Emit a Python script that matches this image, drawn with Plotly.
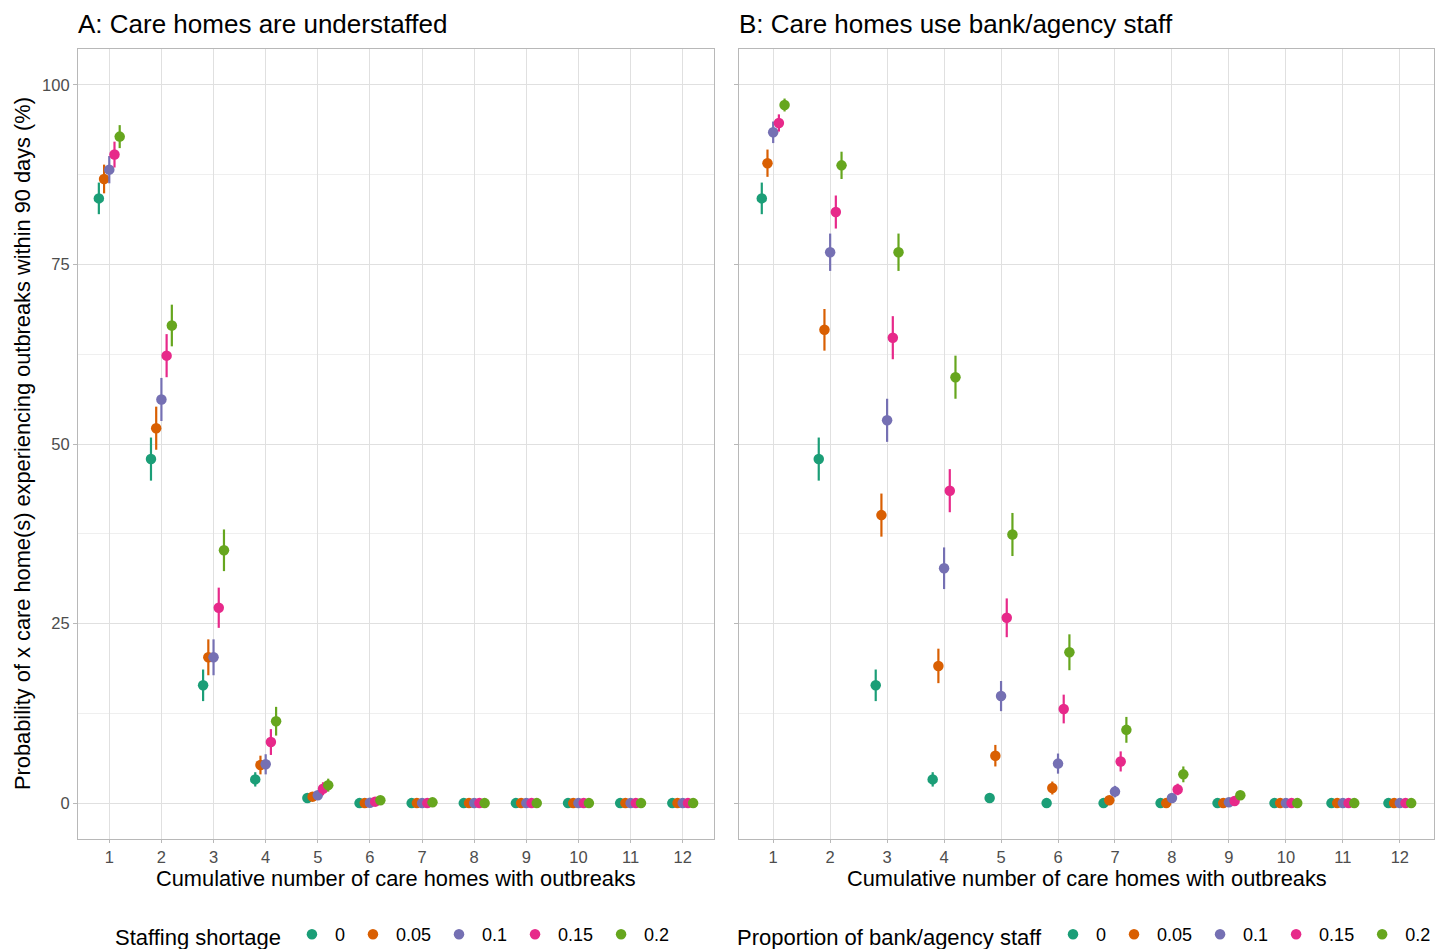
import plotly.graph_objects as go

# Cumulative number of care homes with outbreaks
homes = list(range(1, 13))

# Legend levels and Dark2 colours
staffing_levels = ["0", "0.05", "0.1", "0.15", "0.2"]
bank_levels = ["0", "0.05", "0.1", "0.15", "0.2"]
colours = ["#1B9E77", "#D95F02", "#7570B3", "#E7298A", "#66A61E"]

# Panel A: staffing shortage - probability (%) and CI half-width
a_s000 = [84.2, 47.9, 16.4, 3.3, 0.7, 0.0, 0.0, 0.0, 0.0, 0.0, 0.0, 0.0]
a_s005 = [86.9, 52.2, 20.3, 5.3, 0.9, 0.0, 0.0, 0.0, 0.0, 0.0, 0.0, 0.0]
a_s010 = [88.2, 56.2, 20.3, 5.4, 1.1, 0.05, 0.0, 0.0, 0.0, 0.0, 0.0, 0.0]
a_s015 = [90.3, 62.3, 27.2, 8.5, 2.0, 0.2, 0.0, 0.0, 0.0, 0.0, 0.0, 0.0]
a_s020 = [92.8, 66.5, 35.2, 11.4, 2.5, 0.4, 0.1, 0.0, 0.0, 0.0, 0.0, 0.0]

a_e000 = [2.2, 3.0, 2.2, 1.0, 0.5, 0.0, 0.0, 0.0, 0.0, 0.0, 0.0, 0.0]
a_e005 = [2.0, 3.0, 2.5, 1.3, 0.6, 0.0, 0.0, 0.0, 0.0, 0.0, 0.0, 0.0]
a_e010 = [1.9, 3.0, 2.5, 1.4, 0.6, 0.1, 0.0, 0.0, 0.0, 0.0, 0.0, 0.0]
a_e015 = [1.8, 3.0, 2.8, 1.8, 0.9, 0.3, 0.0, 0.0, 0.0, 0.0, 0.0, 0.0]
a_e020 = [1.6, 2.9, 2.9, 2.0, 0.9, 0.4, 0.2, 0.0, 0.0, 0.0, 0.0, 0.0]

# Panel B: proportion of bank/agency staff - probability (%) and CI half-width
b_s000 = [84.2, 47.9, 16.4, 3.3, 0.7, 0.0, 0.0, 0.0, 0.0, 0.0, 0.0, 0.0]
b_s005 = [89.1, 65.9, 40.1, 19.1, 6.6, 2.1, 0.4, 0.0, 0.0, 0.0, 0.0, 0.0]
b_s010 = [93.4, 76.7, 53.3, 32.7, 14.9, 5.5, 1.6, 0.7, 0.1, 0.0, 0.0, 0.0]
b_s015 = [94.7, 82.3, 64.8, 43.5, 25.8, 13.1, 5.8, 1.9, 0.3, 0.0, 0.0, 0.0]
b_s020 = [97.2, 88.8, 76.7, 59.3, 37.4, 21.0, 10.2, 4.0, 1.1, 0.0, 0.0, 0.0]

b_e000 = [2.2, 3.0, 2.2, 1.0, 0.5, 0.0, 0.0, 0.0, 0.0, 0.0, 0.0, 0.0]
b_e005 = [1.9, 2.9, 3.0, 2.4, 1.5, 0.9, 0.4, 0.0, 0.0, 0.0, 0.0, 0.0]
b_e010 = [1.5, 2.6, 3.0, 2.9, 2.1, 1.4, 0.8, 0.5, 0.2, 0.0, 0.0, 0.0]
b_e015 = [1.2, 2.3, 3.0, 3.0, 2.7, 2.0, 1.4, 0.8, 0.3, 0.0, 0.0, 0.0]
b_e020 = [0.9, 1.9, 2.6, 3.0, 3.0, 2.5, 1.8, 1.1, 0.6, 0.0, 0.0, 0.0]

panel_a = [a_s000, a_s005, a_s010, a_s015, a_s020]
panel_a_err = [a_e000, a_e005, a_e010, a_e015, a_e020]
panel_b = [b_s000, b_s005, b_s010, b_s015, b_s020]
panel_b_err = [b_e000, b_e005, b_e010, b_e015, b_e020]

y_ticks = [0, 25, 50, 75, 100]

FONT = "Liberation Sans, Arial, Helvetica, sans-serif"
W, H = 1450, 949
GRID = "#e0e0e0"
MINOR = "#efefef"
BORDER = "#b8b8b8"

fig = go.Figure()

dodge = [-0.2, -0.1, 0.0, 0.1, 0.2]


def add_panel(values, errors, levels, xaxis, yaxis, legend):
    for i, (vals, errs, lvl) in enumerate(zip(values, errors, levels)):
        fig.add_trace(go.Scatter(
            x=[h + dodge[i] for h in homes],
            y=vals,
            mode="markers",
            name=lvl,
            marker=dict(color=colours[i], size=10.5),
            error_y=dict(type="data", array=errs, symmetric=True,
                         color=colours[i], thickness=2.2, width=0),
            xaxis=xaxis, yaxis=yaxis, legend=legend,
        ))


add_panel(panel_a, panel_a_err, staffing_levels, "x", "y", "legend")
add_panel(panel_b, panel_b_err, bank_levels, "x2", "y2", "legend2")


def px_x(p):
    return p / W


def px_y(p):
    return 1 - p / H


xa_dom = [px_x(78), px_x(714)]
xb_dom = [px_x(739), px_x(1434)]
y_dom = [px_y(839), px_y(49)]

common_x = dict(
    range=[0.4, 12.6], tickmode="array", tickvals=homes,
    ticktext=[str(h) for h in homes],
    showgrid=True, gridcolor=GRID, gridwidth=1, zeroline=False,
    showline=True, mirror=True, linecolor=BORDER, linewidth=1.2,
    ticks="outside", ticklen=3, tickcolor=BORDER,
    tickfont=dict(family=FONT, size=16.5, color="#4d4d4d"),
    automargin=False,
)
common_y = dict(
    range=[-5, 105], tickmode="array", tickvals=y_ticks,
    showgrid=True, gridcolor=GRID, gridwidth=1, zeroline=False,
    showline=True, mirror=True, linecolor=BORDER, linewidth=1.2,
    ticks="outside", ticklen=4, tickcolor=BORDER,
    tickfont=dict(family=FONT, size=16.5, color="#4d4d4d"),
    minor=dict(tickvals=[12.5, 37.5, 62.5, 87.5], showgrid=True,
               gridcolor=MINOR, gridwidth=0.8, ticks=""),
    domain=y_dom, automargin=False,
)

legend_common = dict(
    orientation="h", y=px_y(955), xanchor="left", yanchor="bottom",
    font=dict(family=FONT, size=18, color="black"),
    bgcolor="rgba(0,0,0,0)", itemwidth=36, valign="middle",
)

fig.update_layout(
    width=W, height=H,
    margin=dict(l=0, r=0, t=0, b=0, autoexpand=False),
    paper_bgcolor="white", plot_bgcolor="white",
    font=dict(family=FONT, color="black"),
    xaxis=dict(common_x, domain=xa_dom, anchor="y"),
    yaxis=dict(common_y, anchor="x", showticklabels=True),
    xaxis2=dict(common_x, domain=xb_dom, anchor="y2"),
    yaxis2=dict(common_y, anchor="x2", showticklabels=False),
    legend=dict(
        legend_common, x=px_x(113),
        title=dict(text="Staffing shortage", side="left",
                   font=dict(family=FONT, size=22, color="black")),
    ),
    legend2=dict(
        legend_common, x=px_x(735),
        title=dict(text="Proportion of bank/agency staff", side="left",
                   font=dict(family=FONT, size=22, color="black")),
    ),
)

annotations = [
    dict(text="A: Care homes are understaffed", x=px_x(76), y=px_y(24),
         xanchor="left", yanchor="middle", font=dict(size=26)),
    dict(text="B: Care homes use bank/agency staff", x=px_x(737), y=px_y(24),
         xanchor="left", yanchor="middle", font=dict(size=26)),
    dict(text="Cumulative number of care homes with outbreaks",
         x=(xa_dom[0] + xa_dom[1]) / 2, y=px_y(878),
         xanchor="center", yanchor="middle", font=dict(size=21.8)),
    dict(text="Cumulative number of care homes with outbreaks",
         x=(xb_dom[0] + xb_dom[1]) / 2, y=px_y(878),
         xanchor="center", yanchor="middle", font=dict(size=21.8)),
    dict(text="Probability of x care home(s) experiencing outbreaks within 90 days (%)",
         x=px_x(22), y=(y_dom[0] + y_dom[1]) / 2, textangle=-90,
         xanchor="center", yanchor="middle", font=dict(size=21.8)),
]
for a in annotations:
    a.update(xref="paper", yref="paper", showarrow=False)
    a["font"].update(family=FONT, color="black")
fig.update_layout(annotations=annotations)

fig.write_html("out.html")
